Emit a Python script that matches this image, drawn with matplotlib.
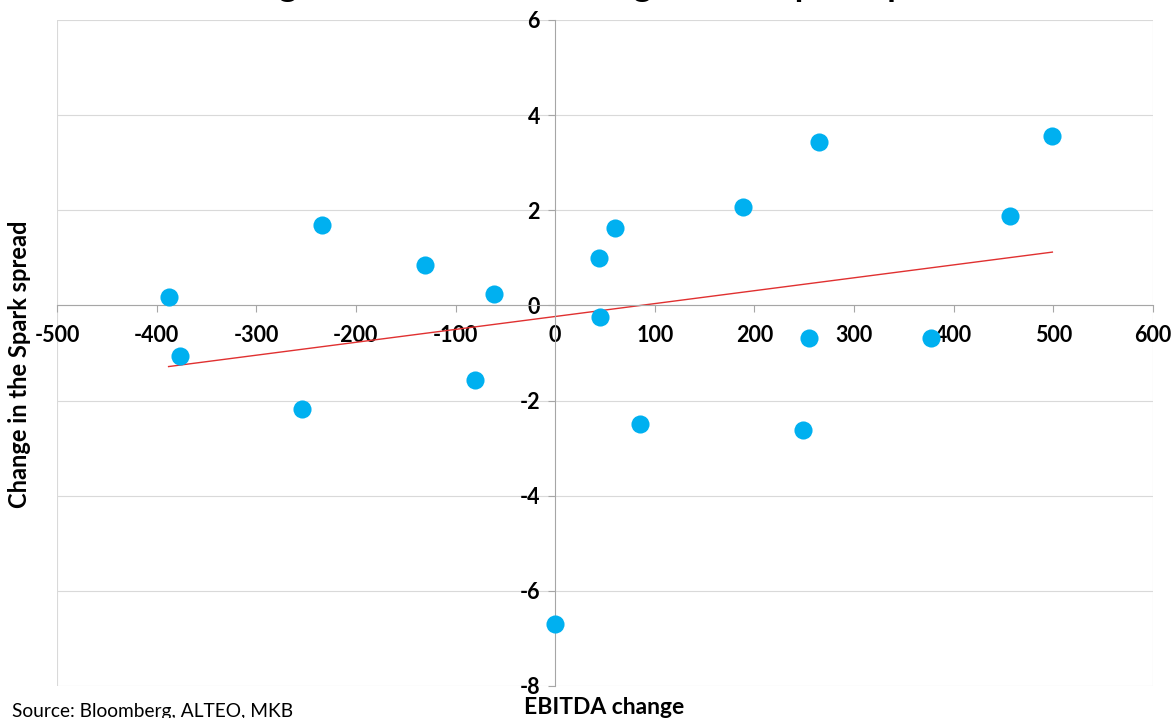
import matplotlib
matplotlib.use("Agg")
import matplotlib.pyplot as plt
import numpy as np

# EBITDA change vs change in the Spark spread
ebitda = [-388, -377, -254, -234, -131, -80, -61, 0, 44, 45, 60, 85,
          189, 249, 255, 265, 377, 456, 499]
spark = [0.18, -1.06, -2.18, 1.69, 0.85, -1.57, 0.24, -6.7, 1.0, -0.24, 1.62, -2.49,
         2.06, -2.62, -0.68, 3.43, -0.68, 1.88, 3.56]

x_ticks = [-500, -400, -300, -200, -100, 0, 100, 200, 300, 400, 500, 600]
y_ticks = [-8, -6, -4, -2, 0, 2, 4, 6]

plt.rcParams['font.family'] = ['Lato', 'DejaVu Sans']
plt.rcParams['axes.unicode_minus'] = False

fig = plt.figure(figsize=(11.74, 7.18), dpi=100)
ax = fig.add_axes([57/1174, 32/718, 1096/1174, 666/718])

ax.set_xlim(-500, 600)
ax.set_ylim(-8, 6)

# grid + frame
for yv in y_ticks:
    ax.axhline(yv, color='#d9d9d9', lw=0.8, zorder=0)
ax.axvline(-500, color='#d9d9d9', lw=0.8, zorder=0)
ax.axvline(600, color='#d9d9d9', lw=0.8, zorder=0)

# axes through origin
ax.spines['left'].set_position(('data', 0))
ax.spines['bottom'].set_position(('data', 0))
ax.spines['right'].set_visible(False)
ax.spines['top'].set_visible(False)
ax.spines['left'].set_color('#a6a6a6')
ax.spines['bottom'].set_color('#a6a6a6')

ax.set_xticks(x_ticks)
ax.set_yticks(y_ticks)
ax.tick_params(axis='both', color='#a6a6a6', length=5, labelsize=15.5)
ax.tick_params(axis='x', pad=9)
ax.tick_params(axis='y', pad=6)
for lab in ax.get_xticklabels() + ax.get_yticklabels():
    lab.set_fontweight('bold')

ax.scatter(ebitda, spark, s=170, color='#00b0f0', zorder=3, linewidths=0)

# linear trend
k, b = np.polyfit(ebitda, spark, 1)
xs = np.array([min(ebitda), max(ebitda)])
ax.plot(xs, k * xs + b, color='#e03030', lw=1, zorder=2)

fig.text(20/1174, 354/718, 'Change in the Spark spread', rotation=90, ha='center', va='center',
         fontsize=17, fontweight='bold')
fig.text(604/1174, 10/718, 'EBITDA change', ha='center', va='center',
         fontsize=16.5, fontweight='bold')
fig.text(12/1174, 6/718, 'Source: Bloomberg, ALTEO, MKB', ha='left', va='center',
         fontsize=13.8)
fig.text(0.5, 1 + 4/718, 'Change in EBITDA and change in the Spark spread', ha='center',
         va='baseline', fontsize=25, fontweight='bold')

fig.savefig('out.png', dpi=100)
